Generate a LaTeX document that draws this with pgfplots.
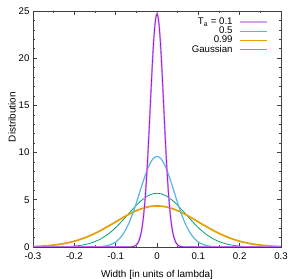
\documentclass[border=0pt]{standalone}
\usepackage{fontspec}
\setmainfont{Liberation Sans}
\usepackage{pgfplots}
\pgfplotsset{compat=1.18}
\definecolor{gpurple}{HTML}{9400D3}
\definecolor{glpurple}{HTML}{D6A2F0}
\definecolor{gblue}{HTML}{56B4E9}
\definecolor{gorange}{HTML}{E69F00}
\definecolor{ggreen}{HTML}{009E73}
\newcommand{\ff}{\fontsize{9.7}{11}\selectfont}
\begin{document}
\begin{tikzpicture}
\begin{axis}[
  scale only axis,
  width=248bp, height=236bp,
  xmin=-0.3, xmax=0.3, ymin=0, ymax=25,
  xtick={-0.3,-0.2,-0.1,0,0.1,0.2,0.3},
  xticklabels={-0.3,-0.2,-0.1,0,0.1,0.2,0.3},
  minor x tick num=1,
  ytick={0,5,10,15,20,25},
  yticklabels={0,5,10,15,20,25},
  minor y tick num=4,
  tick align=inside,
  major tick length=4bp, minor tick length=2bp,
  every tick/.style={black!75, line width=0.6bp},
  axis line style={black!75, line width=0.8bp},
  tick label style={font=\ff},
  xticklabel style={yshift=-2bp},
  label style={font=\ff},
  xlabel={Width [in units of lambda]},
  ylabel={Distribution},
  every axis x label/.style={at={(axis description cs:0.5,0)}, yshift=-28bp, anchor=center},
  every axis y label/.style={at={(axis description cs:0,0.55)}, xshift=-21bp, rotate=90, anchor=center},
  legend style={draw=none, fill=none, font=\ff, at={(axis description cs:1,1)}, anchor=north east, xshift=-12bp, yshift=-4bp, row sep=-3.2bp, inner sep=1bp},
  legend cell align=right,
  legend plot pos=right,
  legend image code/.code={\path (0bp,0bp); \draw[#1] (4bp,0bp) -- (31bp,0bp);},
  /pgf/number format/assume math mode=true,
]
\addlegendimage{glpurple, line width=2.2bp}
\addlegendentry{T\textsubscript{a} = 0.1}
\addlegendimage{gblue, line width=1bp}
\addlegendentry{0.5}
\addlegendimage{gorange, line width=1.2bp}
\addlegendentry{0.99}
\addlegendimage{ggreen!70, line width=1.5bp}
\addlegendentry{Gaussian}
% Gaussian (green)
\addplot[ggreen, line width=0.8bp, smooth, forget plot] coordinates {
(-0.30,0) (-0.28,0.002) (-0.26,0.006) (-0.24,0.016) (-0.22,0.041) (-0.20,0.096)
(-0.18,0.21) (-0.16,0.42) (-0.14,0.77) (-0.12,1.31) (-0.10,2.05) (-0.08,2.97)
(-0.06,3.95) (-0.04,4.84) (-0.02,5.47) (0,5.7) (0.02,5.47) (0.04,4.84)
(0.06,3.95) (0.08,2.97) (0.10,2.05) (0.12,1.31) (0.14,0.77) (0.16,0.42)
(0.18,0.21) (0.20,0.096) (0.22,0.041) (0.24,0.016) (0.26,0.006) (0.28,0.002) (0.30,0)
};
% T_a = 0.99 (orange)
\addplot[gorange, line width=1.7bp, smooth, forget plot] coordinates {
(-0.30,0.05) (-0.28,0.09) (-0.26,0.16) (-0.24,0.26) (-0.22,0.41) (-0.20,0.61)
(-0.18,0.89) (-0.16,1.24) (-0.14,1.66) (-0.12,2.15) (-0.10,2.66) (-0.08,3.18)
(-0.06,3.65) (-0.04,4.02) (-0.02,4.27) (0,4.35) (0.02,4.27) (0.04,4.02)
(0.06,3.65) (0.08,3.18) (0.10,2.66) (0.12,2.15) (0.14,1.66) (0.16,1.24)
(0.18,0.89) (0.20,0.61) (0.22,0.41) (0.24,0.26) (0.26,0.16) (0.28,0.09) (0.30,0.05)
};
% T_a = 0.5 (blue)
\addplot[gblue, line width=1.2bp, smooth, forget plot] coordinates {
(-0.30,0) (-0.18,0) (-0.16,0.006) (-0.15,0.014) (-0.14,0.033) (-0.13,0.073) (-0.12,0.15)
(-0.11,0.29) (-0.10,0.53) (-0.09,0.92) (-0.08,1.51) (-0.07,2.33) (-0.06,3.39)
(-0.05,4.66) (-0.04,6.05) (-0.03,7.40) (-0.02,8.55) (-0.01,9.33) (0,9.6)
(0.01,9.33) (0.02,8.55) (0.03,7.40) (0.04,6.05) (0.05,4.66) (0.06,3.39)
(0.07,2.33) (0.08,1.51) (0.09,0.92) (0.10,0.53) (0.11,0.29) (0.12,0.15)
(0.13,0.073) (0.14,0.033) (0.15,0.014) (0.16,0.006) (0.18,0) (0.30,0)
};
% T_a = 0.1 (purple)
\addplot[glpurple, line width=1.8bp, forget plot] coordinates {
(-0.30,0) (-0.07,0) (-0.06,0.026) (-0.055,0.078) (-0.05,0.21) (-0.045,0.52)
(-0.04,1.17) (-0.0375,1.70) (-0.035,2.39) (-0.0325,3.30) (-0.03,4.45) (-0.0275,5.85)
(-0.025,7.51) (-0.0225,9.42) (-0.02,11.53) (-0.0175,13.78) (-0.015,16.09)
(-0.0125,18.34) (-0.01,20.41) (-0.0075,22.19) (-0.005,23.55) (-0.0025,24.41)
(0,24.7) (0.0025,24.41) (0.005,23.55) (0.0075,22.19) (0.01,20.41) (0.0125,18.34)
(0.015,16.09) (0.0175,13.78) (0.02,11.53) (0.0225,9.42) (0.025,7.51) (0.0275,5.85)
(0.03,4.45) (0.0325,3.30) (0.035,2.39) (0.0375,1.70) (0.04,1.17) (0.045,0.52)
(0.05,0.21) (0.055,0.078) (0.06,0.026) (0.07,0) (0.30,0)
};
\addplot[gpurple, line width=0.6bp, forget plot] coordinates {
(-0.30,0) (-0.07,0) (-0.06,0.026) (-0.055,0.078) (-0.05,0.21) (-0.045,0.52)
(-0.04,1.17) (-0.0375,1.70) (-0.035,2.39) (-0.0325,3.30) (-0.03,4.45) (-0.0275,5.85)
(-0.025,7.51) (-0.0225,9.42) (-0.02,11.53) (-0.0175,13.78) (-0.015,16.09)
(-0.0125,18.34) (-0.01,20.41) (-0.0075,22.19) (-0.005,23.55) (-0.0025,24.41)
(0,24.7) (0.0025,24.41) (0.005,23.55) (0.0075,22.19) (0.01,20.41) (0.0125,18.34)
(0.015,16.09) (0.0175,13.78) (0.02,11.53) (0.0225,9.42) (0.025,7.51) (0.0275,5.85)
(0.03,4.45) (0.0325,3.30) (0.035,2.39) (0.0375,1.70) (0.04,1.17) (0.045,0.52)
(0.05,0.21) (0.055,0.078) (0.06,0.026) (0.07,0) (0.30,0)
};
\end{axis}
\pgfresetboundingbox
\path[use as bounding box] (-33bp,-32bp) rectangle (267bp,247bp);
\end{tikzpicture}
\end{document}
